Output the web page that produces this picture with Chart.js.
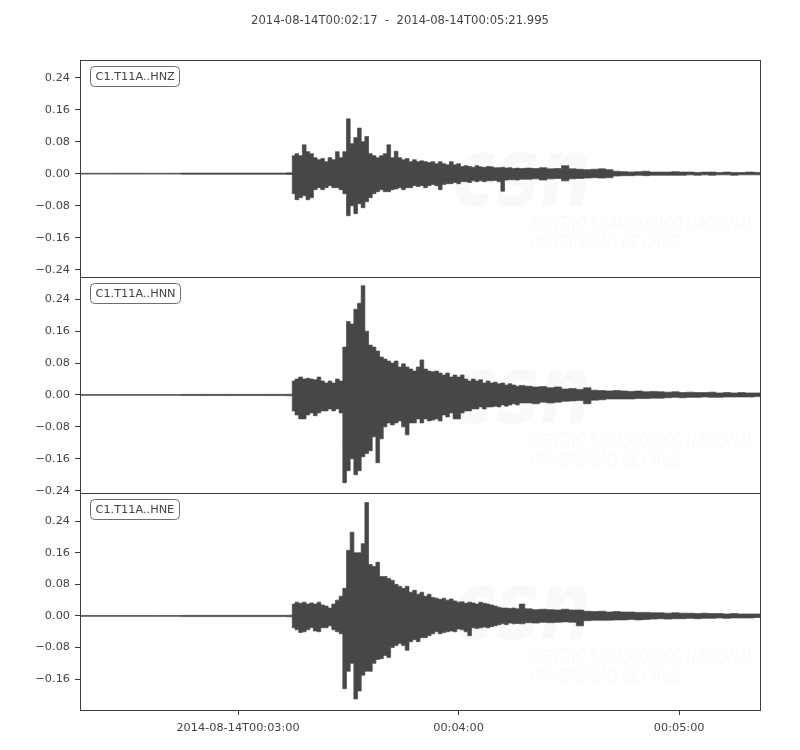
<!DOCTYPE html>
<html>
<head>
<meta charset="utf-8">
<script src="https://cdn.jsdelivr.net/npm/chart.js@4.4.1/dist/chart.umd.min.js"></script>
<style>
  html, body { margin: 0; padding: 0; background: #fff; }
  #wrap { width: 800px; height: 750px; }
</style>
</head>
<body>
<div id="wrap"><canvas id="seis" width="800" height="750"></canvas></div>
<script>
// ── data (seconds after 2014-08-14T00:02:17, ground motion per trace) ──
const titleText = '2014-08-14T00:02:17  -  2014-08-14T00:05:21.995';
const traceNames = ['C1.T11A..HNZ', 'C1.T11A..HNN', 'C1.T11A..HNE'];
const xMax = 184.995;
const xTickSec = [43, 103, 163];
const xTickLabels = ['2014-08-14T00:03:00', '00:04:00', '00:05:00'];
const yTickVals = [-0.24, -0.16, -0.08, 0, 0.08, 0.16, 0.24];

// window centres (s): sparse before the P arrival, 1 s through the strong part, 2 s in the coda
const tSec = [
  0, 5, 10, 15, 20, 25, 30, 35, 40, 45, 50, 55,
  57.5, 58, 59, 60, 61, 62, 63, 64, 65, 66,
  67, 68, 69, 70, 71, 72, 73, 74, 75, 76,
  77, 78, 79, 80, 81, 82, 83, 84, 85, 86,
  87, 88, 89, 90, 91, 92, 93, 94, 95, 96,
  97, 98, 99, 100, 101, 102, 103, 104, 105, 106,
  107, 108, 109, 110, 111, 112, 113, 114, 115, 116,
  117, 118, 119, 120,
  122, 124, 126, 128, 130, 132, 134, 136, 138, 140,
  142, 144, 146, 148, 150, 152, 154, 156, 158, 160,
  162, 164, 166, 168, 170, 172, 174, 176, 178, 180,
  182, 185
];

// highest (up) and lowest (dn) value of the trace inside each window
const hnzUp = [
  0.001, 0.001, 0.001, 0.001, 0.001, 0.001, 0.0015, 0.0015, 0.0015, 0.0015, 0.0015, 0.0015,
  0.002, 0.045, 0.05, 0.045, 0.072, 0.055, 0.05, 0.04, 0.035, 0.038,
  0.03, 0.04, 0.035, 0.055, 0.04, 0.055, 0.137, 0.075, 0.09, 0.114,
  0.08, 0.093, 0.05, 0.045, 0.04, 0.045, 0.05, 0.072, 0.04, 0.056,
  0.04, 0.035, 0.038, 0.03, 0.035, 0.03, 0.032, 0.03, 0.028, 0.03,
  0.025, 0.03, 0.025, 0.022, 0.03, 0.022, 0.025, 0.018, 0.02, 0.018,
  0.016, 0.02, 0.017, 0.016, 0.018, 0.017, 0.015, 0.015, 0.016, 0.014,
  0.015, 0.013, 0.014, 0.013,
  0.014, 0.013, 0.015, 0.012, 0.013, 0.02, 0.012, 0.011, 0.01, 0.011,
  0.012, 0.01, 0.006, 0.005, 0.004, 0.005, 0.006, 0.004, 0.004, 0.004,
  0.005, 0.004, 0.004, 0.003, 0.004, 0.004, 0.003, 0.004, 0.003, 0.003,
  0.004, 0.003
];
const hnzDn = [
  -0.001, -0.001, -0.001, -0.001, -0.001, -0.001, -0.0015, -0.0015, -0.0015, -0.0015, -0.0015, -0.0015,
  -0.002, -0.05, -0.065, -0.06, -0.055, -0.065, -0.06, -0.04, -0.035, -0.04,
  -0.035, -0.03, -0.035, -0.035, -0.04, -0.05, -0.105, -0.08, -0.1, -0.075,
  -0.085, -0.07, -0.06, -0.05, -0.045, -0.04, -0.045, -0.045, -0.04, -0.038,
  -0.035, -0.04, -0.035, -0.035, -0.03, -0.032, -0.03, -0.035, -0.03, -0.027,
  -0.03, -0.04, -0.027, -0.025, -0.025, -0.022, -0.025, -0.02, -0.02, -0.022,
  -0.018, -0.02, -0.018, -0.02, -0.018, -0.018, -0.017, -0.02, -0.044, -0.016,
  -0.015, -0.015, -0.016, -0.014,
  -0.014, -0.013, -0.016, -0.013, -0.012, -0.018, -0.013, -0.012, -0.011, -0.01,
  -0.011, -0.01, -0.006, -0.005, -0.005, -0.004, -0.005, -0.004, -0.004, -0.004,
  -0.004, -0.004, -0.003, -0.004, -0.003, -0.004, -0.003, -0.003, -0.004, -0.003,
  -0.003, -0.003
];
const hnnUp = [
  0.001, 0.001, 0.001, 0.001, 0.001, 0.001, 0.0015, 0.0015, 0.0015, 0.0015, 0.0015, 0.0015,
  0.002, 0.035, 0.04, 0.045, 0.04, 0.042, 0.04, 0.038, 0.045, 0.035,
  0.03, 0.035, 0.03, 0.04, 0.035, 0.12, 0.184, 0.178, 0.215, 0.23,
  0.274, 0.16, 0.125, 0.12, 0.11, 0.095, 0.09, 0.085, 0.08, 0.085,
  0.07, 0.078, 0.07, 0.065, 0.06, 0.07, 0.088, 0.065, 0.06, 0.058,
  0.06, 0.055, 0.05, 0.055, 0.045, 0.05, 0.045, 0.05, 0.04, 0.035,
  0.04, 0.035, 0.038, 0.03, 0.035, 0.03, 0.032, 0.028, 0.03, 0.025,
  0.028, 0.025, 0.022, 0.024,
  0.022, 0.02, 0.021, 0.018, 0.02, 0.015, 0.016, 0.014, 0.018, 0.012,
  0.011, 0.01, 0.011, 0.01, 0.009, 0.01, 0.008, 0.009, 0.008, 0.007,
  0.008, 0.006, 0.007, 0.006, 0.006, 0.007, 0.005, 0.006, 0.005, 0.006,
  0.005, 0.005
];
const hnnDn = [
  -0.001, -0.001, -0.001, -0.001, -0.001, -0.001, -0.0015, -0.0015, -0.0015, -0.0015, -0.0015, -0.0015,
  -0.002, -0.04, -0.05, -0.06, -0.06, -0.05, -0.045, -0.052, -0.045, -0.04,
  -0.04, -0.035, -0.04, -0.035, -0.045, -0.22, -0.19, -0.16, -0.2, -0.19,
  -0.155, -0.147, -0.14, -0.105, -0.17, -0.11, -0.08, -0.07, -0.075, -0.07,
  -0.065, -0.08, -0.1, -0.07, -0.07, -0.06, -0.07, -0.06, -0.065, -0.063,
  -0.06, -0.065, -0.05, -0.055, -0.045, -0.06, -0.06, -0.045, -0.04, -0.04,
  -0.035, -0.035, -0.03, -0.035, -0.03, -0.03, -0.028, -0.03, -0.025, -0.028,
  -0.025, -0.022, -0.025, -0.02,
  -0.02, -0.022, -0.018, -0.02, -0.018, -0.016, -0.015, -0.014, -0.022, -0.013,
  -0.012, -0.01, -0.01, -0.01, -0.01, -0.009, -0.009, -0.008, -0.008, -0.007,
  -0.006, -0.007, -0.006, -0.006, -0.005, -0.006, -0.006, -0.005, -0.005, -0.005,
  -0.005, -0.004
];
const hneUp = [
  0.001, 0.001, 0.001, 0.001, 0.001, 0.001, 0.0015, 0.0015, 0.0015, 0.0015, 0.0015, 0.0015,
  0.002, 0.03, 0.035, 0.032, 0.035, 0.03, 0.033, 0.03, 0.035, 0.028,
  0.025, 0.02, 0.03, 0.04, 0.05, 0.07, 0.166, 0.212, 0.16, 0.16,
  0.183, 0.287, 0.13, 0.125, 0.136, 0.1, 0.1, 0.095, 0.09, 0.08,
  0.075, 0.07, 0.075, 0.06, 0.065, 0.055, 0.06, 0.05, 0.055, 0.047,
  0.045, 0.042, 0.045, 0.04, 0.043, 0.038, 0.035, 0.036, 0.032, 0.035,
  0.033, 0.03, 0.035, 0.032, 0.03, 0.028, 0.025, 0.022, 0.02, 0.02,
  0.019, 0.02, 0.018, 0.03,
  0.018, 0.016, 0.017, 0.016, 0.015, 0.017, 0.015, 0.015, 0.012, 0.011,
  0.012, 0.01, 0.011, 0.01, 0.01, 0.009, 0.009, 0.008, 0.008, 0.007,
  0.008, 0.007, 0.007, 0.006, 0.007, 0.006, 0.006, 0.005, 0.006, 0.005,
  0.005, 0.005
];
const hneDn = [
  -0.001, -0.001, -0.001, -0.001, -0.001, -0.001, -0.0015, -0.0015, -0.0015, -0.0015, -0.0015, -0.0015,
  -0.002, -0.03, -0.035, -0.042, -0.04, -0.035, -0.03, -0.038, -0.04, -0.03,
  -0.03, -0.025, -0.035, -0.04, -0.045, -0.184, -0.14, -0.12, -0.21, -0.19,
  -0.15, -0.14, -0.14, -0.12, -0.11, -0.108, -0.1, -0.105, -0.08, -0.075,
  -0.07, -0.075, -0.087, -0.065, -0.06, -0.065, -0.055, -0.055, -0.05, -0.045,
  -0.04, -0.045, -0.042, -0.04, -0.038, -0.04, -0.033, -0.035, -0.04, -0.05,
  -0.03, -0.032, -0.03, -0.028, -0.03, -0.027, -0.025, -0.022, -0.02, -0.022,
  -0.018, -0.02, -0.019, -0.02,
  -0.017, -0.018, -0.016, -0.017, -0.016, -0.015, -0.016, -0.025, -0.012, -0.011,
  -0.011, -0.011, -0.01, -0.01, -0.009, -0.01, -0.009, -0.008, -0.007, -0.008,
  -0.007, -0.007, -0.006, -0.007, -0.006, -0.006, -0.005, -0.006, -0.005, -0.005,
  -0.005, -0.004
];

// per-panel y limits
const yLimits = [[-0.258, 0.283], [-0.247, 0.296], [-0.238, 0.31]];

// ── styling ──
const AXIS = '#3d3d3d';
const TXT = '#444444';
const TRACE = '#474747';
const FONT = { family: "'DejaVu Sans'", size: 11.3 };

function fmtY(v) {
  return (v < 0 ? '\u2212' : '') + Math.abs(v).toFixed(2);
}

function pts(vals) {
  return tSec.map((t, i) => ({ x: t, y: vals[i] }));
}

const axisIds = ['yZ', 'yN', 'yE'];

function yAxis(k) {
  return {
    type: 'linear',
    position: 'left',
    stack: 'traces',
    stackWeight: 1,
    weight: 3 - k,
    min: yLimits[k][0],
    max: yLimits[k][1],
    border: { display: false },
    grid: { drawOnChartArea: false, drawTicks: true, tickLength: 5, tickColor: AXIS, tickWidth: 1 },
    ticks: { color: TXT, font: FONT, padding: 5, autoSkip: false, callback: v => fmtY(v) },
    afterBuildTicks: s => {
      s.ticks = yTickVals.filter(v => v >= s.min - 1e-9 && v <= s.max + 1e-9).map(v => ({ value: v }));
    },
    afterFit: s => { s.width = 80; }
  };
}

// title, frames, station labels and the faint watermark
const panelDeco = {
  id: 'panelDeco',
  beforeDatasetsDraw(chart) {
    const ctx = chart.ctx;
    const a = chart.chartArea;
    ctx.save();
    ctx.fillStyle = TXT;
    ctx.font = "11.6px 'DejaVu Sans'";
    ctx.textAlign = 'center';
    ctx.textBaseline = 'middle';
    ctx.fillText(titleText, chart.width / 2, 20.5);

    ctx.fillStyle = 'rgba(0,0,0,0.022)';
    ctx.textAlign = 'left';
    ctx.textBaseline = 'alphabetic';
    axisIds.forEach(id => {
      const s = chart.scales[id];
      ctx.font = "italic bold 96px 'DejaVu Sans'";
      ctx.fillText('csn', a.left + 372, s.top + 146, 140);
      ctx.font = "italic 19px 'DejaVu Sans Condensed'";
      ctx.fillText('CENTRO SISMOL\u00d3GICO NACIONAL', a.left + 452, s.top + 170, 222);
      ctx.fillText('UNIVERSIDAD DE CHILE', a.left + 450, s.top + 189, 150);
    });
    ctx.restore();
  },
  afterDatasetsDraw(chart) {
    const ctx = chart.ctx;
    const a = chart.chartArea;
    const L = Math.round(a.left) + 0.5;
    const W = Math.round(a.right) - Math.round(a.left);
    ctx.save();
    ctx.lineWidth = 1;
    axisIds.forEach((id, k) => {
      const s = chart.scales[id];
      ctx.strokeStyle = AXIS;
      ctx.strokeRect(L, Math.round(s.top) + 0.5, W, Math.round(s.bottom) - Math.round(s.top));

      ctx.font = "11.3px 'DejaVu Sans'";
      const tw = ctx.measureText(traceNames[k]).width;
      const bx = L + 10, by = Math.round(s.top) + 6.5, bw = Math.round(tw + 10), bh = 20;
      ctx.fillStyle = '#ffffff';
      ctx.strokeStyle = '#6e6e6e';
      ctx.beginPath();
      ctx.roundRect(bx, by, bw, bh, 4);
      ctx.fill();
      ctx.stroke();
      ctx.fillStyle = TXT;
      ctx.textAlign = 'left';
      ctx.textBaseline = 'middle';
      ctx.fillText(traceNames[k], bx + 5, by + bh / 2 + 0.5);
    });
    ctx.restore();
  }
};

// each trace: upper edge filled down to its lower edge, stepped per window
const series = [[hnzUp, hnzDn], [hnnUp, hnnDn], [hneUp, hneDn]];
const datasets = [];
series.forEach(([up, dn], k) => {
  const common = {
    yAxisID: axisIds[k],
    borderColor: TRACE,
    backgroundColor: TRACE,
    borderWidth: 0.7,
    pointRadius: 0,
    stepped: 'middle'
  };
  datasets.push(Object.assign({ label: traceNames[k], data: pts(up), fill: '+1' }, common));
  datasets.push(Object.assign({ label: traceNames[k] + ' low', data: pts(dn), fill: false }, common));
});

new Chart(document.getElementById('seis').getContext('2d'), {
  type: 'line',
  data: { datasets },
  plugins: [panelDeco],
  options: {
    responsive: false,
    animation: false,
    events: [],
    layout: { padding: { left: 0, right: 40, top: 60.4, bottom: 0 } },
    plugins: {
      legend: { display: false },
      tooltip: { enabled: false },
      title: { display: false },
      filler: { propagate: false }
    },
    scales: {
      x: {
        type: 'linear',
        min: 0,
        max: xMax,
        border: { display: false },
        grid: { drawOnChartArea: false, tickLength: 5, tickColor: AXIS },
        ticks: {
          color: TXT, font: FONT, padding: 6, maxRotation: 0, autoSkip: false,
          callback: (v, i) => xTickLabels[i]
        },
        afterBuildTicks: s => { s.ticks = xTickSec.map(v => ({ value: v })); },
        afterFit: s => { s.height = 40; }
      },
      yZ: yAxis(0),
      yN: yAxis(1),
      yE: yAxis(2)
    }
  }
});
</script>
</body>
</html>
